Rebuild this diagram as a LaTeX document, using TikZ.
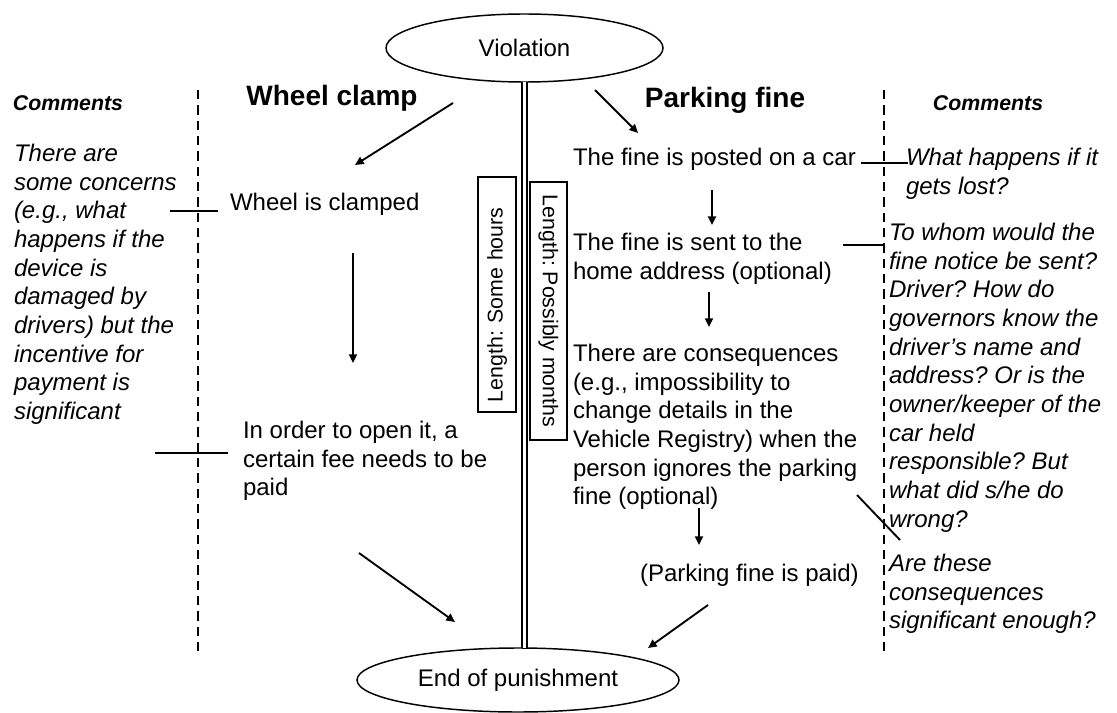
\documentclass[tikz,border=0pt]{standalone}
\usepackage{fontspec}
\setmainfont{Liberation Sans}
\usetikzlibrary{shapes.geometric,arrows.meta}
\frenchspacing
\begin{document}
\begin{tikzpicture}[x=0.75pt,y=-0.75pt,
  every node/.style={inner sep=0pt, outer sep=0pt},
  body/.style={font=\fontsize{18}{21.5}\selectfont, align=left, anchor=north west},
  cmt/.style={font=\fontsize{18}{21.5}\selectfont\itshape, align=left, anchor=north west},
  head/.style={font=\fontsize{21}{25}\selectfont\bfseries},
  chead/.style={font=\fontsize{16}{19}\selectfont\bfseries\itshape},
  oval/.style={ellipse, draw, line width=1.1pt, font=\fontsize{18}{21.5}\selectfont},
  arr/.style={-{Triangle[length=6.5pt,width=6pt]}, line width=1.4pt},
  link/.style={line width=1.4pt},
  divider/.style={line width=1.3pt, dash pattern=on 7pt off 4.5pt},
  lenbox/.style={draw, line width=0.9pt, font=\fontsize{16}{19}\selectfont}
]
\useasboundingbox (0,0) rectangle (1117,713);

% ovals
\node[oval, minimum width=207.75pt, minimum height=51pt] (viol) at (524.5,48) {Violation};
\node[oval, minimum width=241.5pt, minimum height=48pt] (endp) at (518,680) {End of punishment};
\draw[line width=0.9pt, double, double distance=2.8pt] (viol.south) -- (viol.south |- endp.north);

% dividers
\coordinate (dl1) at (198,90);  \coordinate (dl2) at (198,657);
\coordinate (dr1) at (884,90);  \coordinate (dr2) at (884,657);
\draw[divider] (dl1) -- (dl2);
\draw[divider] (dr1) -- (dr2);

% headings
\node[chead] (cl) at (68,103) {Comments};
\node[chead] (cr) at (988,103) {Comments};
\node[head] (hw) at (332,98) {Wheel clamp};
\node[head] (hp) at (725,100) {Parking fine};

% length boxes
\node[lenbox, rotate=90, minimum width=176.25pt, text width=161.25pt, inner xsep=7.5pt, align=left, minimum height=28.5pt] (lsh) at (497,294.5) {Length: Some hours};
\node[lenbox, rotate=-90, minimum width=193.5pt, minimum height=27.75pt] (lpm) at (548.5,311) {Length: Possibly months};

% wheel clamp column
\node[body] (w1) at (230,193) {Wheel is clamped};
\node[body] (w2) at (243,421) {In order to open it, a\\certain fee needs to be\\paid};

% parking fine column
\node[body] (p1) at (573,148) {The fine is posted on a car};
\node[body] (p2) at (573,233) {The fine is sent to the\\home address (optional)};
\node[body] (p3) at (573,344) {There are consequences\\(e.g., impossibility to\\change details in the\\Vehicle Registry) when the\\person ignores the parking\\fine (optional)};
\node[body] (p4) at (640,564) {(Parking fine is paid)};

% comments
\node[cmt] (c1) at (14,144) {There are\\some concerns\\(e.g., what\\happens if the\\device is\\damaged by\\drivers) but the\\incentive for\\payment is\\significant};
\node[cmt] (c2) at (906,148) {What happens if it\\gets lost?};
\node[cmt] (c3) at (889,223) {To whom would the\\fine notice be sent?\\Driver? How do\\governors know the\\driver’s name and\\address? Or is the\\owner/keeper of the\\car held\\responsible? But\\what did s/he do\\wrong?};
\node[cmt] (c4) at (889,554) {Are these\\consequences\\significant enough?};

% arrows
\coordinate (a1s) at (453,103); \coordinate (a1e) at (355,165);
\coordinate (a2s) at (595,90);  \coordinate (a2e) at (638,133);
\coordinate (a3s) at (353,253); \coordinate (a3e) at (353,363);
\coordinate (a4s) at (712,190); \coordinate (a4e) at (712,225);
\coordinate (a5s) at (709,292); \coordinate (a5e) at (709,327);
\coordinate (a6s) at (699,508); \coordinate (a6e) at (699,545);
\coordinate (a7s) at (359,553); \coordinate (a7e) at (455,622);
\coordinate (a8s) at (708,605); \coordinate (a8e) at (648,648);
\draw[arr] (a1s) -- (a1e);
\draw[arr] (a2s) -- (a2e);
\draw[arr] (a3s) -- (a3e);
\draw[arr] (a4s) -- (a4e);
\draw[arr] (a5s) -- (a5e);
\draw[arr] (a6s) -- (a6e);
\draw[arr] (a7s) -- (a7e);
\draw[arr] (a8s) -- (a8e);

% comment links
\coordinate (l1s) at (170,211); \coordinate (l1e) at (218,211);
\coordinate (l2s) at (155,453); \coordinate (l2e) at (228,453);
\coordinate (l3s) at (861,163); \coordinate (l3e) at (908,163);
\coordinate (l4s) at (843,245); \coordinate (l4e) at (885,245);
\coordinate (l5s) at (857,495); \coordinate (l5e) at (900,540);
\draw[link] (l1s) -- (l1e);
\draw[link] (l2s) -- (l2e);
\draw[link] (l3s) -- (l3e);
\draw[link] (l4s) -- (l4e);
\draw[link] (l5s) -- (l5e);
\end{tikzpicture}
\end{document}
